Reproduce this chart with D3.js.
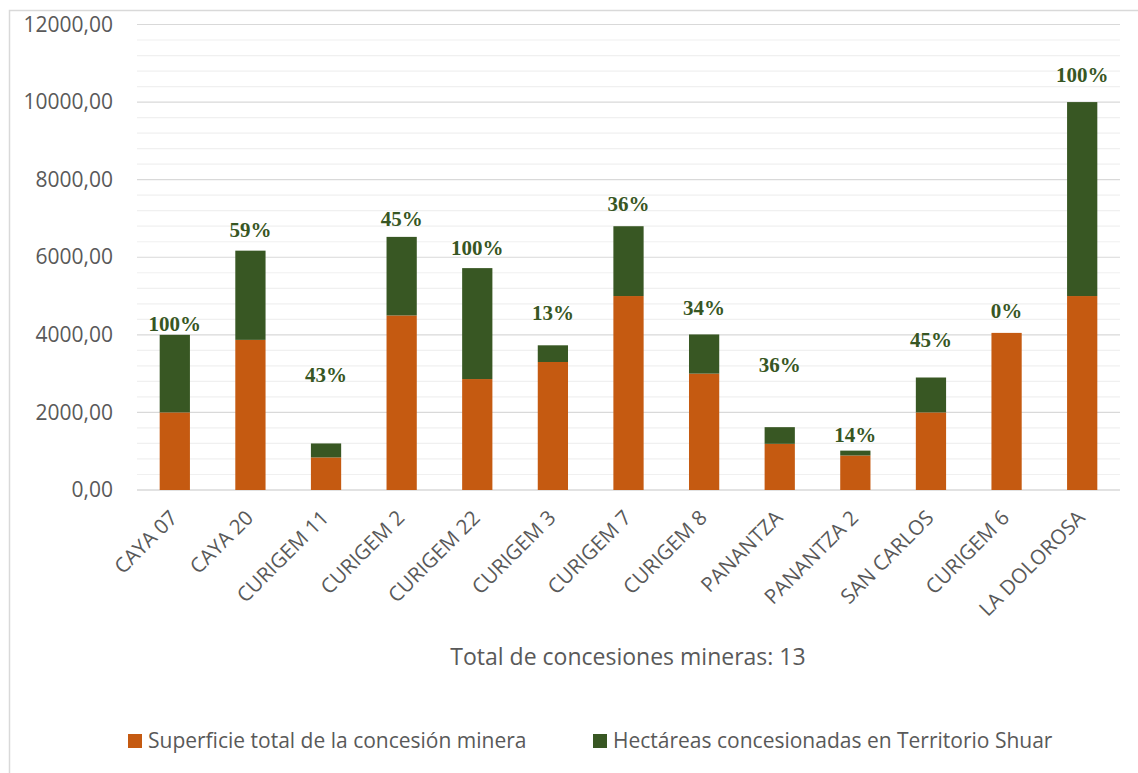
<!DOCTYPE html>
<html><head><meta charset="utf-8">
<script src="https://cdn.jsdelivr.net/npm/d3@7/dist/d3.min.js"></script>
<style>
html,body{margin:0;padding:0;background:#fff;}
svg{display:block;}
</style></head>
<body>
<script>
const categories = ["CAYA 07","CAYA 20","CURIGEM 11","CURIGEM 2","CURIGEM 22","CURIGEM 3","CURIGEM 7","CURIGEM 8","PANANTZA","PANANTZA 2","SAN CARLOS","CURIGEM 6","LA DOLOROSA"];
const superficie = [2000, 3870, 840, 4500, 2860, 3300, 5000, 3000, 1190, 890, 2000, 4050, 5000];
const hectareasShuar = [2000, 2300, 360, 2025, 2860, 430, 1800, 1010, 430, 125, 900, 0, 5000];
const percentLabels = ["100%","59%","43%","45%","100%","13%","36%","34%","36%","14%","45%","0%","100%"];
const labelAt = [4280, 6700, 2970, 7000, 6260, 4580, 7390, 4690, 3240, 1420, 3870, 4620, 10700];
const yTicks = [0, 2000, 4000, 6000, 8000, 10000, 12000];
const seriesNames = ["Superficie total de la concesión minera", "Hectáreas concesionadas en Territorio Shuar"];
const axisTitle = "Total de concesiones mineras: 13";

const W = 1138, H = 773;
const colors = ["#C55A11", "#385723"];
const font = "'Open Sans', 'Noto Sans', sans-serif";

const svg = d3.select("body").append("svg").attr("width", W).attr("height", H);
svg.append("rect").attr("x", 9.5).attr("y", 10.5).attr("width", W + 20).attr("height", H + 20)
  .attr("fill", "#fff").attr("stroke", "#d9d9d9").attr("stroke-width", 1.5);

const x0 = 137, x1 = 1120, yTop = 24.5, yBot = 490;
const x = d3.scaleBand().domain(categories).range([x0, x1]).paddingInner(0.6).paddingOuter(0.3);
const y = d3.scaleLinear().domain([0, 12000]).range([yBot, yTop]);

// minor gridlines
const minor = d3.range(0, 12001, 400).filter(v => v % 2000 !== 0);
svg.append("g").selectAll("line").data(minor).join("line")
  .attr("x1", x0).attr("x2", x1).attr("y1", d => y(d)).attr("y2", d => y(d))
  .attr("stroke", "#f0f0f0").attr("stroke-width", 1.2);
// major gridlines
svg.append("g").selectAll("line").data(yTicks).join("line")
  .attr("x1", x0).attr("x2", x1).attr("y1", d => y(d)).attr("y2", d => y(d))
  .attr("stroke", "#d9d9d9").attr("stroke-width", d => d === 0 ? 1.5 : 1.2);

// y axis labels
const yAxis = d3.axisLeft(y).tickValues(yTicks).tickSize(0).tickPadding(0)
  .tickFormat(d => d3.format(".2f")(d).replace(".", ","));
const gy = svg.append("g").attr("transform", "translate(113,0)").call(yAxis);
gy.select(".domain").remove();
gy.selectAll("text").attr("font-family", font).attr("font-size", 21).attr("fill", "#595959");

// stacked bars
const data = categories.map((c, i) => ({cat: c, a: superficie[i], b: hectareasShuar[i]}));
const stack = d3.stack().keys(["a", "b"])(data);
svg.append("g").selectAll("g").data(stack).join("g")
  .attr("fill", (d, i) => colors[i])
  .selectAll("rect").data(d => d).join("rect")
  .attr("x", d => x(d.data.cat))
  .attr("width", x.bandwidth())
  .attr("y", d => y(d[1]))
  .attr("height", d => Math.max(0, y(d[0]) - y(d[1])));

// percent labels
svg.append("g").selectAll("text").data(categories).join("text")
  .attr("x", d => x(d) + x.bandwidth() / 2)
  .attr("y", (d, i) => y(labelAt[i]))
  .attr("dy", "0.35em")
  .attr("text-anchor", "middle")
  .attr("font-family", "'Liberation Serif', 'DejaVu Serif', serif")
  .attr("font-weight", "bold")
  .attr("font-size", 21)
  .attr("fill", "#375623")
  .text((d, i) => percentLabels[i]);

// x axis labels
const xAxis = d3.axisBottom(x).tickSize(0).tickPadding(0);
const gx = svg.append("g").attr("transform", `translate(0,${yBot})`).call(xAxis);
gx.select(".domain").remove();
gx.selectAll("text")
  .attr("font-family", font).attr("font-size", 20.5).attr("fill", "#595959")
  .attr("text-anchor", "end")
  .attr("transform", "translate(-1,24) rotate(-45)")
  .attr("x", 0).attr("y", 0).attr("dy", "0.35em");

// axis title
svg.append("text").attr("x", 628).attr("y", 657).attr("dy", "0.35em")
  .attr("text-anchor", "middle").attr("font-family", font).attr("font-size", 23)
  .attr("fill", "#595959").text(axisTitle);

// legend
const legendX = [128, 593];
const lg = svg.append("g").selectAll("g").data(seriesNames).join("g")
  .attr("transform", (d, i) => `translate(${legendX[i]},741)`);
lg.append("rect").attr("x", 0).attr("y", -7).attr("width", 14).attr("height", 14)
  .attr("fill", (d, i) => colors[i]);
lg.append("text").attr("x", 20).attr("y", 0).attr("dy", "0.35em")
  .attr("font-family", font).attr("font-size", 21).attr("fill", "#595959")
  .text(d => d);
</script>
</body></html>
